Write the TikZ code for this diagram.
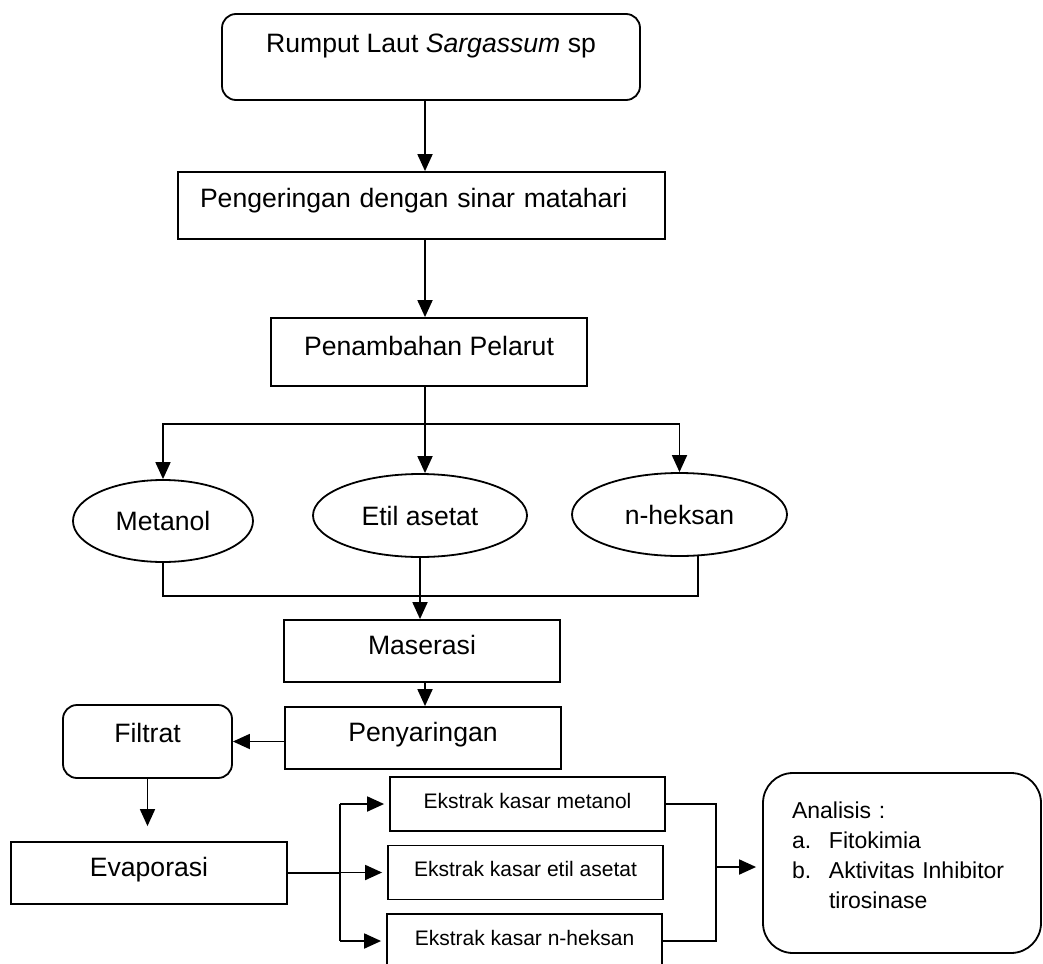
\documentclass[tikz,border=0pt]{standalone}
\usepackage{fontspec}
\setmainfont{Liberation Sans}
\usetikzlibrary{arrows.meta,shapes.geometric}

\newcommand\bigfont{\fontsize{26.6}{30}\selectfont}
\newcommand\smallfont{\fontsize{21}{25}\selectfont}
\newcommand\listfont{\fontsize{23}{30}\selectfont}

\begin{document}
\begin{tikzpicture}[x=1pt, y=-1pt, line width=1.8pt, >={Triangle[length=17pt,width=15pt]},
	box/.style={draw, rectangle, inner sep=0pt, font=\bigfont, text height=19pt, text depth=13pt},
	rbox/.style={box, rounded corners=14pt},
	oval/.style={draw, ellipse, inner sep=0pt, font=\bigfont},
	ebox/.style={box, font=\smallfont, text height=15.5pt, text depth=7.5pt, minimum width=275pt, minimum height=54pt},
	listbox/.style={draw, rounded corners=30pt, font=\listfont, align=left, inner xsep=29pt, inner ysep=0pt}]
	\useasboundingbox (0,0) rectangle (1043,963);
	% main column
	\node[rbox, minimum width=418pt, minimum height=86pt, text depth=28pt] (src) at (431,57) {Rumput Laut \textit{Sargassum} sp};
	\node[box, minimum width=487pt, minimum height=67pt, text width=443pt, inner xsep=22pt, align=left, text depth=15pt] (dry) at (421.5,205.5) {Pengeringan dengan sinar matahari};
	\node[box, minimum width=316pt, minimum height=68pt] (solv) at (429,352) {Penambahan Pelarut};
	\node[oval, minimum width=180pt, minimum height=82pt] (met) at (163,521) {Metanol};
	\node[oval, minimum width=214pt, minimum height=83pt] (etil) at (420,515.5) {Etil asetat};
	\node[oval, minimum width=215pt, minimum height=83pt] (hex) at (679.5,514.5) {n-heksan};
	\node[box, minimum width=276pt, minimum height=62pt] (mas) at (422,651) {Maserasi};
	\node[box, minimum width=276pt, minimum height=62pt] (pen) at (423,738) {Penyaringan};
	\node[rbox, minimum width=169pt, minimum height=73pt, text depth=17pt] (fil) at (147.5,741.5) {Filtrat};
	\node[box, minimum width=276pt, minimum height=62pt] (eva) at (149,873) {Evaporasi};
	% extracts
	\node[ebox] (em) at (527.5,804) {Ekstrak kasar metanol};
	\node[ebox] (ee) at (525.5,872.5) {Ekstrak kasar etil asetat};
	\node[ebox] (eh) at (524.5,941) {Ekstrak kasar n-heksan};
	\node[listbox, minimum width=278pt, minimum height=180pt, text width=220pt, text height=2pt] (ana) at (902,863) {Analisis :\\
		\makebox[37pt][l]{a.}Fitokimia\\
		\makebox[37pt][l]{b.}Aktivitas Inhibitor\\
		\hspace*{37pt}tirosinase};
	% helper points
	\coordinate (trunk) at (425,0);
	\coordinate (fork) at (425,424);
	\coordinate (join) at (422,596);
	\coordinate (split) at (340,873);
	\coordinate (collect) at (716,867);
	% connectors
	\draw[->] (trunk |- src.south) -- (trunk |- dry.north);
	\draw[->] (trunk |- dry.south) -- (trunk |- solv.north);
	\draw[->] (trunk |- solv.south) -- (trunk |- etil.north);
	\draw[->] (fork) -| (met.north);
	\draw[->] (fork) -| (hex.north);
	\draw (met.south) |- (join) -| (hex.-66);
	\draw[->] (etil.south) -- (etil.south |- mas.north);
	\draw[->] (trunk |- mas.south) -- (trunk |- pen.north);
	\draw[->] (fil.east -| pen.west) -- (fil.east);
	\draw[->, shorten >=15pt] (fil.south) -- (fil.south |- eva.north);
	\draw (eva.east) -- (split);
	\draw (split |- em.west) -- (split |- eh.west);
	\foreach \n in {em,ee,eh}
		\draw[->, shorten >=5pt] (split |- \n.west) -- (\n.west);
	\draw (em.east) -| (collect) |- (eh.east);
	\draw[->, shorten >=6pt] (collect) -- (collect -| ana.west);
\end{tikzpicture}
\end{document}
